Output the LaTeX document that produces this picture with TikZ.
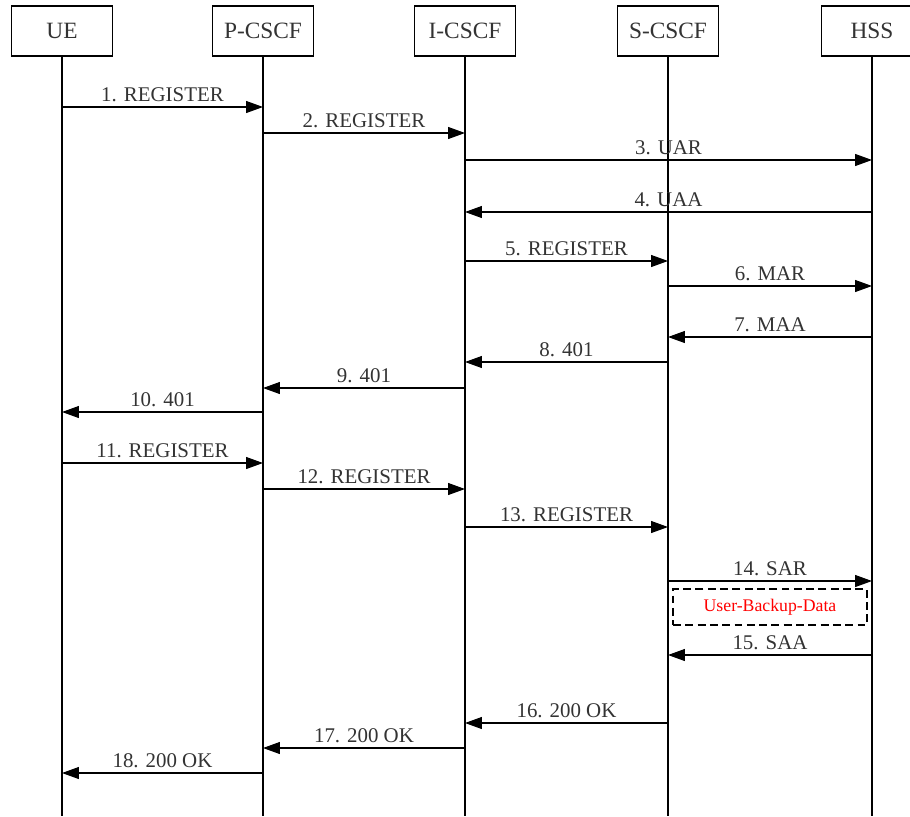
\documentclass[tikz,border=0pt]{standalone}
\usepackage{fontspec}
\setmainfont{Liberation Serif}
\usepackage{xcolor}
\usetikzlibrary{positioning, arrows.meta}

\definecolor{txtgray}{HTML}{333333}

\begin{document}
\begin{tikzpicture}[x=0.02cm, y=-0.02cm,
  actor/.style={draw, semithick, minimum width=2.02cm, minimum height=1cm, inner sep=0pt,
                font=\fontsize{13.3}{15}\selectfont, text=txtgray},
  life/.style={semithick},
  msg/.style={-{Triangle[length=9.6pt, width=6.8pt]}, semithick},
  lbl/.style={above, inner sep=2.6pt, font=\fontsize{11.9}{14}\selectfont, text=txtgray},
  note/.style={draw, semithick, dash pattern=on 4.5pt off 2.5pt, minimum width=3.88cm,
               minimum height=0.72cm, text=red, font=\fontsize{10.1}{12}\selectfont}
]
\useasboundingbox (0,0) rectangle (910,816);
\clip (0,0) rectangle (910,816);

% entities
\node[actor] (ue)    at (62,31)  {UE};
\node[actor] (pcscf) at (263,31) {P-CSCF};
\node[actor] (icscf) at (465,31) {I-CSCF};
\node[actor] (scscf) at (668,31) {S-CSCF};
\node[actor] (hss)   at (872,31) {HSS};

% lifelines
\draw[life] (ue.south)    -- (ue.south |- 0,816);
\draw[life] (pcscf.south) -- (pcscf.south |- 0,816);
\draw[life] (icscf.south) -- (icscf.south |- 0,816);
\draw[life] (scscf.south) -- (scscf.south |- 0,816);
\draw[life] (hss.south)   -- (hss.south |- 0,816);

% registration messages
\draw[msg] (ue |- 0,107)    -- node[lbl] {1. REGISTER}  (pcscf |- 0,107);
\draw[msg] (pcscf |- 0,133) -- node[lbl] {2. REGISTER}  (icscf |- 0,133);
\draw[msg] (icscf |- 0,160) -- node[lbl] {3. UAR}       (hss |- 0,160);
\draw[msg] (hss |- 0,212)   -- node[lbl] {4. UAA}       (icscf |- 0,212);
\draw[msg] (icscf |- 0,261) -- node[lbl] {5. REGISTER}  (scscf |- 0,261);
\draw[msg] (scscf |- 0,286) -- node[lbl] {6. MAR}       (hss |- 0,286);
\draw[msg] (hss |- 0,337)   -- node[lbl] {7. MAA}       (scscf |- 0,337);
\draw[msg] (scscf |- 0,362) -- node[lbl] {8. 401}       (icscf |- 0,362);
\draw[msg] (icscf |- 0,388) -- node[lbl] {9. 401}       (pcscf |- 0,388);
\draw[msg] (pcscf |- 0,412) -- node[lbl] {10. 401}      (ue |- 0,412);
\draw[msg] (ue |- 0,463)    -- node[lbl] {11. REGISTER} (pcscf |- 0,463);
\draw[msg] (pcscf |- 0,489) -- node[lbl] {12. REGISTER} (icscf |- 0,489);
\draw[msg] (icscf |- 0,527) -- node[lbl] {13. REGISTER} (scscf |- 0,527);
\draw[msg] (scscf |- 0,581) -- node[lbl] {14. SAR}      (hss |- 0,581);
\node[note] (backup) at (770,607) {User-Backup-Data};
\draw[msg] (hss |- 0,655)   -- node[lbl] {15. SAA}      (scscf |- 0,655);
\draw[msg] (scscf |- 0,723) -- node[lbl] {16. 200 OK}   (icscf |- 0,723);
\draw[msg] (icscf |- 0,748) -- node[lbl] {17. 200 OK}   (pcscf |- 0,748);
\draw[msg] (pcscf |- 0,773) -- node[lbl] {18. 200 OK}   (ue |- 0,773);
\end{tikzpicture}
\end{document}
